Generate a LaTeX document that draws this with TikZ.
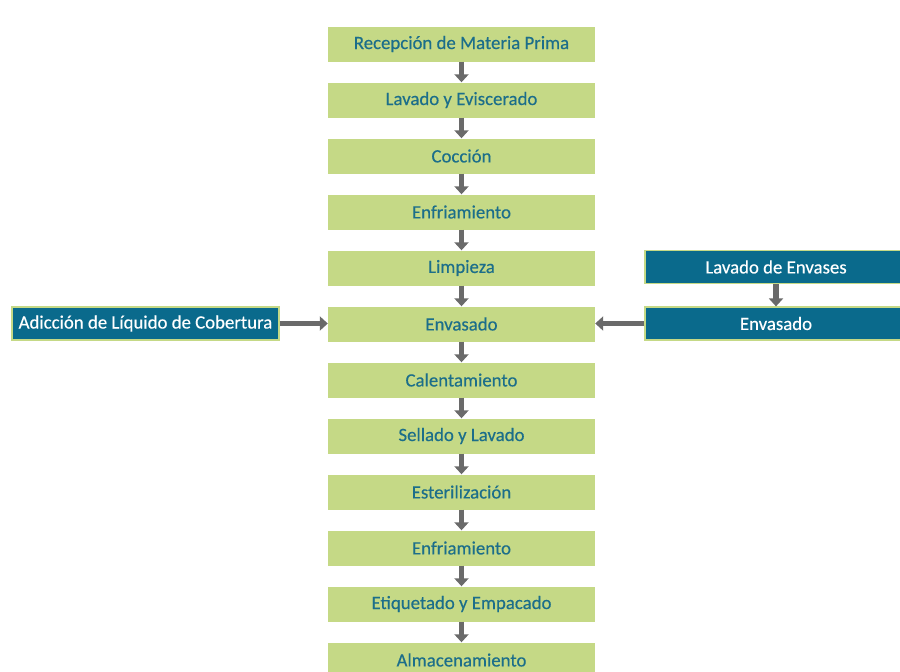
\documentclass[tikz,border=0pt]{standalone}
\usepackage{fontspec}
\setmainfont{Carlito}
\newfontfamily\medfont[FakeBold=0.35]{Carlito}
\usetikzlibrary{arrows.meta}
\definecolor{boxgreen}{HTML}{C5D986}
\definecolor{txtteal}{HTML}{1C6E8A}
\definecolor{boxblue}{HTML}{0A6A8C}
\definecolor{arrgrey}{HTML}{6A6A6A}
\begin{document}
\begin{tikzpicture}[x=1pt,y=-1pt,
  stepbox/.style={fill=boxgreen,draw=none,minimum width=267pt,minimum height=35pt,inner sep=0pt,text=txtteal,font=\medfont\fontsize{18.8}{20}\selectfont},
  sidebox/.style={fill=boxblue,draw=boxgreen,line width=1.2pt,minimum height=33pt,inner sep=0pt,text=white,font=\medfont\fontsize{18.8}{20}\selectfont},
  flow/.style={draw=arrgrey,line width=5.5pt,-{Triangle[length=8pt,width=14pt]}}]
\useasboundingbox (0,0) rectangle (900,672);
\foreach \i/\t in {1/Recepción de Materia Prima,2/Lavado y Eviscerado,3/Cocción,4/Enfriamiento,5/Limpieza,6/Envasado,7/Calentamiento,8/Sellado y Lavado,9/Esterilización,10/Enfriamiento,11/Etiquetado y Empacado,12/Almacenamiento}
  \node[stepbox] (s\i) at (461.5,{44+56*(\i-1)}) {\t};
\foreach \i [count=\j from 2] in {1,...,11}
  \draw[flow] (s\i) -- (s\j);
\node[sidebox,minimum width=267pt] (adl) at (145.5,323.5) {Adicción de Líquido de Cobertura};
\node[sidebox,minimum width=262pt] (lav) at (776,267) {Lavado de Envases};
\node[sidebox,minimum width=262pt] (env) at (776,323.5) {Envasado};
\draw[flow] (adl.east) -- (adl.east -| s6.west);
\draw[flow] (env.west) -- (env.west -| s6.east);
\draw[flow] (lav) -- (env);
\end{tikzpicture}
\end{document}
